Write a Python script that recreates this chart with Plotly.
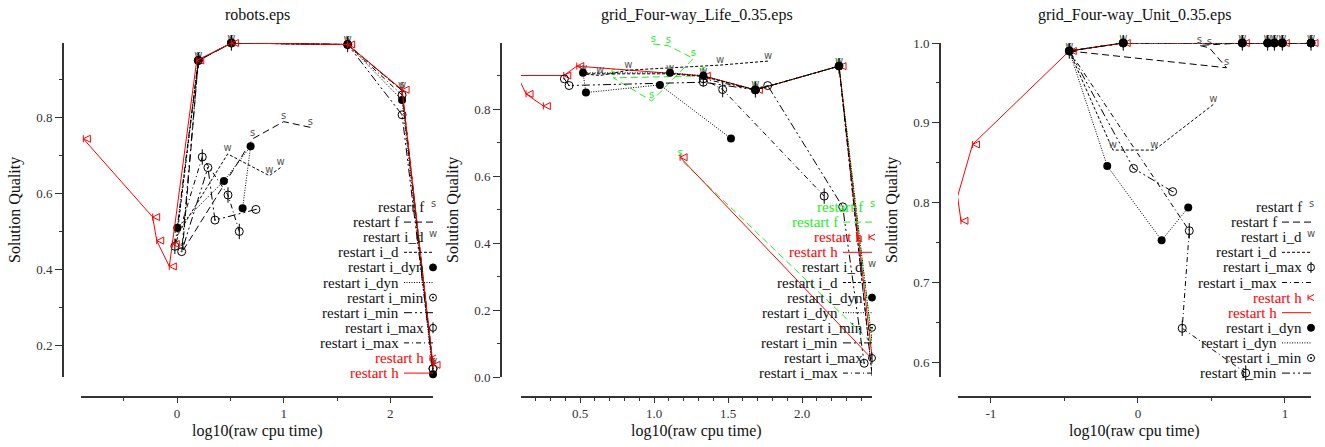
import plotly.graph_objects as go

W, H = 1325, 447
SERIF = "Liberation Serif, Times New Roman, serif"
SANS = "DejaVu Sans, Arial, sans-serif"

# ------------------------------------------------------------------ data
# Panel 1 : robots.eps
rob_f_x = [1.25, 1.00, 0.71, 0.05, 0.20, 0.51, 1.60, 2.11, 2.40]
rob_f_y = [0.775, 0.790, 0.745, 0.448, 0.951, 0.997, 0.993, 0.872, 0.145]
rob_id_x = [0.97, 0.865, 0.475, 0.00, 0.20, 0.51, 1.60, 2.11, 2.40]
rob_id_y = [0.669, 0.648, 0.705, 0.490, 0.951, 0.997, 0.993, 0.872, 0.145]
rob_idyn_x = [0.615, 0.69, 0.44, 0.003, 0.20, 0.51, 1.60, 2.11, 2.40]
rob_idyn_y = [0.562, 0.725, 0.634, 0.511, 0.951, 0.997, 0.993, 0.847, 0.125]
rob_imin_x = [0.74, 0.356, 0.29, 0.044, 0.20, 0.51, 1.60, 2.11, 2.40]
rob_imin_y = [0.559, 0.531, 0.669, 0.448, 0.951, 0.997, 0.993, 0.808, 0.140]
rob_imax_x = [0.584, 0.478, 0.237, -0.02, 0.20, 0.51, 1.60, 2.11, 2.40]
rob_imax_y = [0.501, 0.597, 0.697, 0.462, 0.951, 0.997, 0.993, 0.860, 0.140]
rob_h_x = [-0.878, -0.228, -0.19, -0.072, -0.044, 0.185, 0.51, 1.60, 2.11, 2.40]
rob_h_y = [0.745, 0.539, 0.477, 0.409, 0.468, 0.951, 0.997, 0.993, 0.874, 0.150]

# Panel 2 : grid_Four-way_Life_0.35.eps
life_f_x = [0.995, 1.097, 1.266, 0.984, 0.725, 1.333, 1.685, 2.25, 2.475, 1.176]
life_f_y = [0.994, 0.989, 0.951, 0.824, 0.893, 0.899, 0.857, 0.928, 0.100, 0.651]
life_h_x = [0.252, 0.135, 0.076, 0.39, 0.478, 1.333, 1.685, 2.25, 2.475, 1.176]
life_h_y = [0.809, 0.845, 0.900, 0.900, 0.928, 0.899, 0.857, 0.928, 0.053, 0.656]
life_id_x = [1.77, 1.446, 0.827, 0.635, 0.52, 1.108, 1.333, 1.685, 2.25, 2.475]
life_id_y = [0.943, 0.931, 0.916, 0.900, 0.905, 0.905, 0.897, 0.857, 0.928, 0.0]
life_idyn_x = [1.52, 1.04, 0.54, 0.52, 1.108, 1.333, 1.685, 2.25, 2.475, 2.475]
life_idyn_y = [0.712, 0.872, 0.849, 0.908, 0.908, 0.899, 0.857, 0.928, 0.100, 0.0]
life_imin_x = [0.394, 0.426, 1.333, 1.685, 1.768, 2.275, 2.42]
life_imin_y = [0.890, 0.870, 0.880, 0.857, 0.870, 0.508, 0.041]
life_imax_x = [2.15, 1.464, 1.333, 1.685, 2.25, 2.475]
life_imax_y = [0.540, 0.858, 0.890, 0.857, 0.928, 0.0]

# Panel 3 : grid_Four-way_Unit_0.35.eps
unit_f_x = [-0.467, 0.603, 0.485, 0.417, 0.71, 0.882, 0.928, 0.982, 1.177]
unit_f_y = [0.990, 0.969, 0.994, 0.997, 1.0, 1.0, 1.0, 1.0, 1.0]
unit_id_x = [0.512, 0.111, -0.17, -0.467, -0.10, 0.71, 0.882, 0.928, 0.982, 1.177]
unit_id_y = [0.923, 0.866, 0.866, 0.990, 1.0, 1.0, 1.0, 1.0, 1.0, 1.0]
unit_imax_x = [0.733, 0.301, 0.349, -0.467, -0.10, 0.71, 0.882, 0.928, 0.982, 1.177]
unit_imax_y = [0.587, 0.643, 0.765, 0.990, 1.0, 1.0, 1.0, 1.0, 1.0, 1.0]
unit_h_x = [-1.204, -1.227, -1.125, -0.467, -0.10, 0.71, 0.882, 0.928, 0.982, 1.177]
unit_h_y = [0.7775, 0.808, 0.873, 0.990, 1.0, 1.0, 1.0, 1.0, 1.0, 1.0]
unit_idyn_x = [0.342, 0.161, -0.209, -0.467, -0.10, 0.71, 0.882, 0.928, 0.982, 1.177]
unit_idyn_y = [0.794, 0.753, 0.846, 0.990, 1.0, 1.0, 1.0, 1.0, 1.0, 1.0]
unit_imin_x = [0.236, -0.03, -0.467, -0.10, 0.71, 0.882, 0.928, 0.982, 1.177]
unit_imin_y = [0.814, 0.843, 0.990, 1.0, 1.0, 1.0, 1.0, 1.0, 1.0]

# series labels
labels = {"f": "restart f", "i_d": "restart i_d", "i_dyn": "restart i_dyn",
          "i_min": "restart i_min", "i_max": "restart i_max", "h": "restart h"}

titles = ["robots.eps", "grid_Four-way_Life_0.35.eps", "grid_Four-way_Unit_0.35.eps"]
x_title = "log10(raw cpu time)"
y_title = "Solution Quality"

# tick labels
p1_xticks = [0, 1, 2]
p1_xtext = ["0", "1", "2"]
p1_yticks = [0.2, 0.4, 0.6, 0.8]
p1_ytext = ["0.2", "0.4", "0.6", "0.8"]
p2_xticks = [0.5, 1.0, 1.5, 2.0]
p2_xtext = ["0.5", "1.0", "1.5", "2.0"]
p2_yticks = [0.0, 0.2, 0.4, 0.6, 0.8]
p2_ytext = ["0.0", "0.2", "0.4", "0.6", "0.8"]
p3_xticks = [-1, 0, 1]
p3_xtext = ["-1", "0", "1"]
p3_yticks = [0.6, 0.7, 0.8, 0.9, 1.0]
p3_ytext = ["0.6", "0.7", "0.8", "0.9", "1.0"]

# ------------------------------------------------------------------ styles
RED = "#ff0000"
GREEN = "#22ee22"
BLACK = "#000000"
DASH = {"f": "7px,4px", "i_d": "3px,2px", "i_dyn": "1px,1.5px",
        "i_min": "8px,3px,2px,3px,2px,3px", "i_max": "5px,3px,1px,3px", "h": "solid"}
SYM = {"f": "s", "i_d": "w", "i_dyn": "dot", "i_min": "odot", "i_max": "ophi", "h": "h"}

panels = [
    dict(series={"f": (rob_f_x, rob_f_y), "i_d": (rob_id_x, rob_id_y),
                 "i_dyn": (rob_idyn_x, rob_idyn_y), "i_min": (rob_imin_x, rob_imin_y),
                 "i_max": (rob_imax_x, rob_imax_y), "h": (rob_h_x, rob_h_y)},
         order=["f", "i_d", "i_dyn", "i_min", "i_max", "h"],
         colors={"h": RED},
         xl=81, xr=433, yline=62, xrange=[-0.9, 2.40], yrange=[0.118, 0.997],
         xt=(p1_xticks, p1_xtext), yt=(p1_yticks, p1_ytext), xminor=0.5, yminor=0.1,
         ytitle_x=15),
    dict(series={"f": (life_f_x, life_f_y), "h": (life_h_x, life_h_y),
                 "i_d": (life_id_x, life_id_y), "i_dyn": (life_idyn_x, life_idyn_y),
                 "i_min": (life_imin_x, life_imin_y), "i_max": (life_imax_x, life_imax_y)},
         order=["f", "h", "i_d", "i_dyn", "i_min", "i_max"],
         colors={"f": GREEN, "h": RED},
         xl=521, xr=872, yline=500, xrange=[0.101, 2.473], yrange=[0.0, 0.997],
         xt=(p2_xticks, p2_xtext), yt=(p2_yticks, p2_ytext), xminor=0.1, yminor=0.1,
         ytitle_x=453),
    dict(series={"f": (unit_f_x, unit_f_y), "i_d": (unit_id_x, unit_id_y),
                 "i_max": (unit_imax_x, unit_imax_y), "h": (unit_h_x, unit_h_y),
                 "i_dyn": (unit_idyn_x, unit_idyn_y), "i_min": (unit_imin_x, unit_imin_y)},
         order=["f", "i_d", "i_max", "h", "i_dyn", "i_min"],
         colors={"h": RED},
         xl=958, xr=1311, yline=939, xrange=[-1.224, 1.177], yrange=[0.582, 1.0],
         xt=(p3_xticks, p3_xtext), yt=(p3_yticks, p3_ytext), xminor=0.5, yminor=0.05,
         ytitle_x=892),
]

Y_TOP, Y_BOT, X_AXIS_Y = 43, 377, 396
KEY_FONT = 15


def pxx(x):
    return x / W


def pxy(y):
    return 1 - y / H


fig = go.Figure()
shapes = []
annotations = []

for i, p in enumerate(panels):
    n = i + 1
    xa = "x" if n == 1 else f"x{n}"
    ya = "y" if n == 1 else f"y{n}"
    axis_font = dict(family=SERIF, size=13, color="#333")
    fig.update_layout(**{
        ("xaxis" if n == 1 else f"xaxis{n}"): dict(
            domain=[pxx(p["xl"]), pxx(p["xr"])], anchor="free", position=pxy(X_AXIS_Y),
            range=p["xrange"], showline=True, linecolor="#333", linewidth=1.5,
            ticks="outside", ticklen=5, tickwidth=1, tickcolor="#333",
            tickmode="array", tickvals=p["xt"][0], ticktext=p["xt"][1], tickfont=axis_font,
            minor=dict(tickmode="linear", tick0=0, dtick=p["xminor"], ticks="outside",
                       ticklen=3, tickcolor="#333"),
            showgrid=False, zeroline=False, automargin=False, fixedrange=True),
        ("yaxis" if n == 1 else f"yaxis{n}"): dict(
            domain=[pxy(Y_BOT), pxy(Y_TOP)], anchor="free", position=pxx(p["yline"]),
            range=p["yrange"], showline=True, linecolor="#333", linewidth=1.5,
            ticks="outside", ticklen=7, tickwidth=1, tickcolor="#333",
            tickmode="array", tickvals=p["yt"][0], ticktext=p["yt"][1], tickfont=axis_font,
            minor=dict(tickmode="linear", tick0=0, dtick=p["yminor"], ticks="outside",
                       ticklen=3, tickcolor="#333"),
            showgrid=False, zeroline=False, automargin=False, fixedrange=True),
    })

    # data traces
    for key in p["order"]:
        xs, ys = p["series"][key]
        c = p["colors"].get(key, BLACK)
        line = dict(color=c, width=1, dash=DASH[key])
        sym = SYM[key]
        common = dict(x=xs, y=ys, xaxis=xa, yaxis=ya, showlegend=False,
                      cliponaxis=False, hoverinfo="skip", line=line)
        if sym in ("s", "w"):
            tc = "#555" if c == BLACK else c
            fig.add_trace(go.Scatter(mode="lines+text", text=[sym] * len(xs),
                                     textposition="top center",
                                     textfont=dict(family=SANS, size=10, color=tc), **common))
        elif sym == "dot":
            fig.add_trace(go.Scatter(mode="lines+markers",
                                     marker=dict(symbol="circle", size=8, color=c), **common))
        elif sym == "odot":
            fig.add_trace(go.Scatter(mode="lines+markers",
                                     marker=dict(symbol="circle-open-dot", size=8, color=c,
                                                 line=dict(width=1, color=c)), **common))
        elif sym == "ophi":
            fig.add_trace(go.Scatter(mode="lines+markers",
                                     marker=dict(symbol="circle-open", size=8, color=c,
                                                 line=dict(width=1, color=c)), **common))
            fig.add_trace(go.Scatter(x=xs, y=ys, xaxis=xa, yaxis=ya, mode="markers",
                                     showlegend=False, cliponaxis=False, hoverinfo="skip",
                                     marker=dict(symbol="line-ns", size=11,
                                                 line=dict(width=1, color=c))))
        else:  # h
            fig.add_trace(go.Scatter(mode="lines+markers",
                                     marker=dict(symbol="arrow-bar-left-open", size=7, color=c,
                                                 line=dict(width=1, color=c)), **common))

    # titles
    cx = (p["xl"] + p["xr"]) / 2
    annotations.append(dict(text=titles[i], x=pxx(cx), y=pxy(15), xref="paper", yref="paper",
                            showarrow=False, xanchor="center", yanchor="middle",
                            font=dict(family=SERIF, size=16, color="#111")))
    annotations.append(dict(text=x_title, x=pxx(cx), y=pxy(431), xref="paper", yref="paper",
                            showarrow=False, xanchor="center", yanchor="middle",
                            font=dict(family=SERIF, size=16, color="#111")))
    annotations.append(dict(text=y_title, x=pxx(p["ytitle_x"]), y=pxy(210), xref="paper",
                            yref="paper", showarrow=False, textangle=-90,
                            xanchor="center", yanchor="middle",
                            font=dict(family=SERIF, size=16, color="#111")))

    # in-plot key (lower right)
    sx = p["xr"]
    row = 0
    for key in p["order"]:
        c = p["colors"].get(key, BLACK)
        tcol = "#111" if c == BLACK else c
        for kind in ("sym", "line"):
            ry = 207 + 15.1 * row
            row += 1
            tr = sx - 8 if kind == "sym" else sx - 33
            annotations.append(dict(text=labels[key], x=pxx(tr), y=pxy(ry), xref="paper",
                                    yref="paper", showarrow=False, xanchor="right",
                                    yanchor="middle", borderpad=0,
                                    font=dict(family=SERIF, size=KEY_FONT, color=tcol)))
            if kind == "line":
                shapes.append(dict(type="line", xref="paper", yref="paper",
                                   x0=pxx(sx - 29), x1=pxx(sx), y0=pxy(ry), y1=pxy(ry),
                                   line=dict(color=c, width=1, dash=DASH[key])))
                continue
            sym = SYM[key]
            if sym in ("s", "w"):
                tc = "#555" if c == BLACK else c
                annotations.append(dict(text=sym, x=pxx(sx), y=pxy(ry - 4), xref="paper",
                                        yref="paper", showarrow=False, xanchor="center",
                                        yanchor="middle", borderpad=0,
                                        font=dict(family=SANS, size=10, color=tc)))
            elif sym in ("dot", "odot", "ophi"):
                r = 3.5
                shapes.append(dict(type="circle", xref="paper", yref="paper",
                                   x0=pxx(sx - r), x1=pxx(sx + r), y0=pxy(ry + r), y1=pxy(ry - r),
                                   fillcolor=c if sym == "dot" else "rgba(0,0,0,0)",
                                   line=dict(color=c, width=1)))
                if sym == "odot":
                    shapes.append(dict(type="circle", xref="paper", yref="paper",
                                       x0=pxx(sx - 1), x1=pxx(sx + 1), y0=pxy(ry + 1),
                                       y1=pxy(ry - 1), fillcolor=c, line=dict(color=c, width=0)))
                if sym == "ophi":
                    shapes.append(dict(type="line", xref="paper", yref="paper",
                                       x0=pxx(sx), x1=pxx(sx), y0=pxy(ry - 5.5), y1=pxy(ry + 5.5),
                                       line=dict(color=c, width=1)))
            else:
                ax = sx - 3
                path = (f"M{pxx(ax + 6)},{pxy(ry - 3)} L{pxx(ax)},{pxy(ry)} "
                        f"L{pxx(ax + 6)},{pxy(ry + 3)} M{pxx(ax)},{pxy(ry - 3)} "
                        f"L{pxx(ax)},{pxy(ry + 3)}")
                shapes.append(dict(type="path", xref="paper", yref="paper", path=path,
                                   line=dict(color=c, width=1)))

fig.update_layout(
    template="none",
    width=W, height=H,
    margin=dict(l=0, r=0, t=0, b=0, pad=0),
    paper_bgcolor="white", plot_bgcolor="white",
    showlegend=False,
    shapes=shapes, annotations=annotations,
    font=dict(family=SERIF, size=13, color="#111"),
)

fig.write_html("out.html",
               config={"displayModeBar": False, "staticPlot": True},
               post_script="document.body.style.margin='0';document.body.style.overflow='hidden';")
